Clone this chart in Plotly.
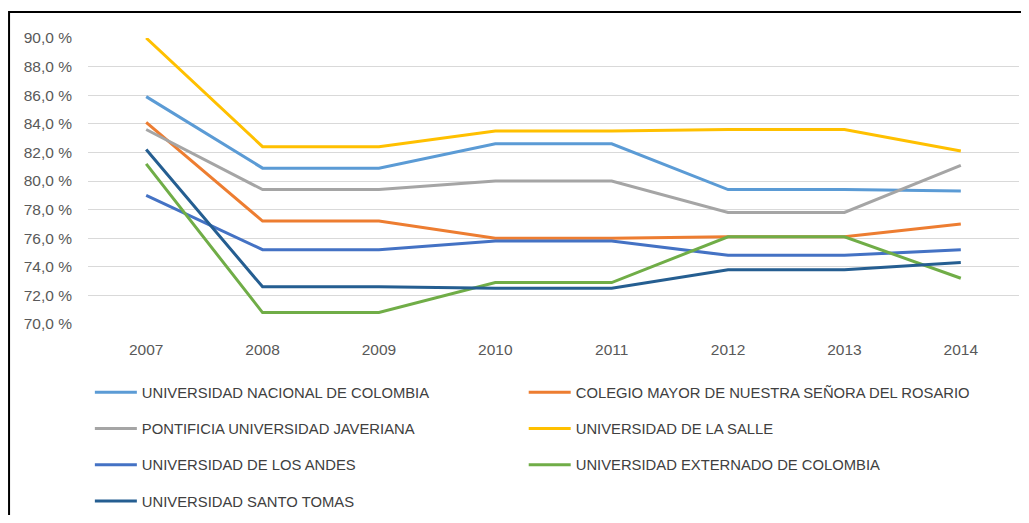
import plotly.graph_objects as go

years = ['2007', '2008', '2009', '2010', '2011', '2012', '2013', '2014']

nacional = [85.9, 80.9, 80.9, 82.6, 82.6, 79.4, 79.4, 79.3]
rosario = [84.1, 77.2, 77.2, 76.0, 76.0, 76.1, 76.1, 77.0]
javeriana = [83.6, 79.4, 79.4, 80.0, 80.0, 77.8, 77.8, 81.1]
salle = [90.0, 82.4, 82.4, 83.5, 83.5, 83.6, 83.6, 82.1]
andes = [79.0, 75.2, 75.2, 75.8, 75.8, 74.8, 74.8, 75.2]
externado = [81.2, 70.8, 70.8, 72.9, 72.9, 76.1, 76.1, 73.2]
santo_tomas = [82.2, 72.6, 72.6, 72.5, 72.5, 73.8, 73.8, 74.3]

series = [
    ('UNIVERSIDAD NACIONAL DE COLOMBIA', nacional, '#5B9BD5', 'legend'),
    ('COLEGIO MAYOR DE NUESTRA SEÑORA DEL ROSARIO', rosario, '#ED7D31', 'legend2'),
    ('PONTIFICIA UNIVERSIDAD JAVERIANA', javeriana, '#A5A5A5', 'legend'),
    ('UNIVERSIDAD DE LA SALLE', salle, '#FFC000', 'legend2'),
    ('UNIVERSIDAD DE LOS ANDES', andes, '#4472C4', 'legend'),
    ('UNIVERSIDAD EXTERNADO DE COLOMBIA', externado, '#70AD47', 'legend2'),
    ('UNIVERSIDAD SANTO TOMAS', santo_tomas, '#255E91', 'legend'),
]

FONT = 'Liberation Sans, Arial, sans-serif'

fig = go.Figure()
for name, vals, colour, leg in series:
    fig.add_trace(go.Scatter(x=years, y=vals, mode='lines', name=name,
                             line=dict(color=colour, width=3),
                             legend=leg, legendgroup=name))

legend_style = dict(orientation='v', xanchor='left', yanchor='top',
                    font=dict(family=FONT, size=14.8, color='#404040'),
                    bgcolor='rgba(0,0,0,0)', tracegroupgap=14, itemwidth=42)

# page body has an 8px margin, so the figure is sized to fit inside it
fig.update_layout(
    width=1013, height=507,
    margin=dict(l=80, r=2, t=30, b=191, autoexpand=False),
    paper_bgcolor='white', plot_bgcolor='white',
    separators=', ',
    font=dict(family=FONT, size=15.5, color='#595959'),
    legend=dict(x=0.002, y=-0.182, **legend_style),
    legend2=dict(x=0.468, y=-0.182, **legend_style),
    shapes=[dict(type='rect', xref='paper', yref='paper',
                 x0=-0.0848, x1=1.1, y0=-1.0, y1=1.091,
                 line=dict(color='black', width=2), layer='above')],
)
fig.update_xaxes(type='category', range=[-0.5, 7.5], showgrid=False,
                 showline=False, ticks='', ticklabelstandoff=14,
                 tickfont=dict(size=15.5, color='#595959'))
fig.update_yaxes(range=[70, 90], dtick=2, tickformat='.1f', ticksuffix=' %',
                 showgrid=True, gridcolor='#D9D9D9', gridwidth=1,
                 zeroline=False, showline=False, ticks='', ticklabelstandoff=15,
                 tickfont=dict(size=15.5, color='#595959'))

fig.write_html('out.html')
